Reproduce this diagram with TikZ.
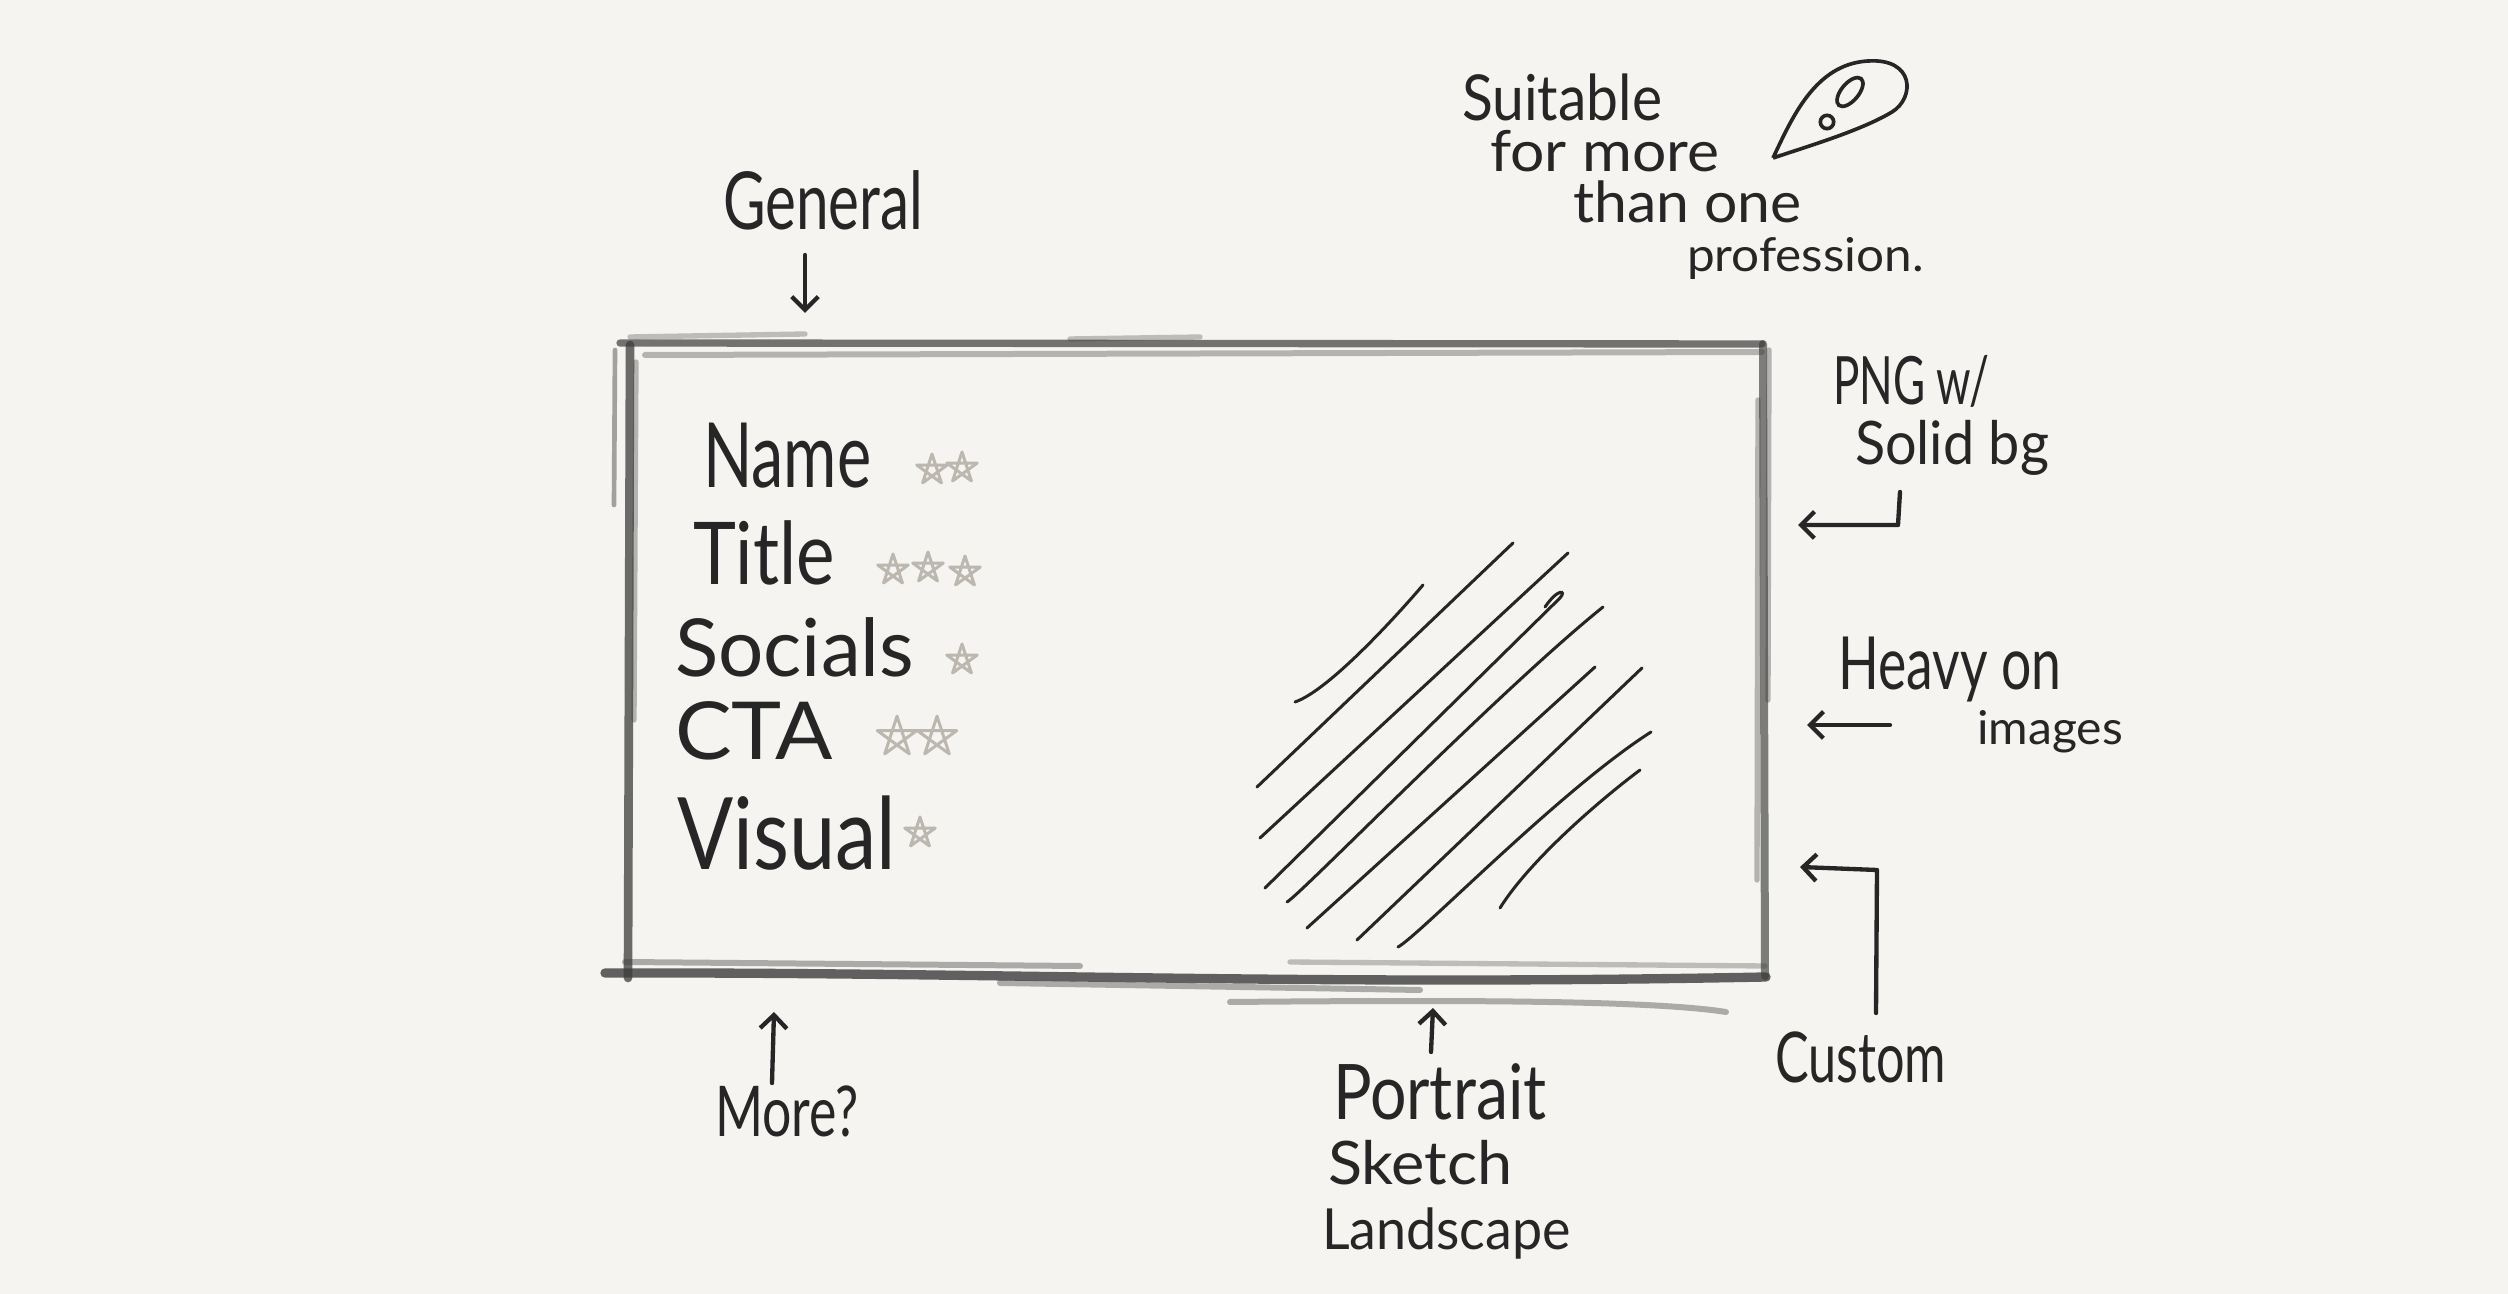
\documentclass[tikz,border=0pt]{standalone}
\usepackage{fontspec}
\setmainfont{Lato}
\usepackage{graphicx}
\usetikzlibrary{arrows.meta}
\definecolor{paper}{RGB}{245,244,240}
\definecolor{ink}{RGB}{38,38,38}
\definecolor{lead}{RGB}{60,60,60}
\definecolor{starink}{RGB}{188,184,176}
% size in pt, horizontal squeeze, text
\newcommand\handtext[3]{\fontsize{#1}{#1}\selectfont\scalebox{#2}[1]{#3}}
\tikzset{
  note/.style={anchor=base west, inner sep=0pt, outer sep=0pt, text=ink},
  pointer/.style={draw=ink, line width=1.3pt, line cap=round, line join=round,
    -{Straight Barb[length=4pt,width=8pt,line width=1.3pt]}},
  hatch/.style={draw=ink, line width=0.9pt, line cap=round},
  pencil/.style={draw=lead, line cap=round, line width=2pt, opacity=0.5},
  starline/.style={draw=starink, line width=0.9pt, line join=round, line cap=round},
  hstar/.pic={\draw[starline] (90:4.8pt) -- (234:4.8pt) -- (18:4.8pt) -- (162:4.8pt) -- (306:4.8pt) -- cycle;}
}
\begin{document}
\begin{tikzpicture}[x=0.3pt,y=-0.3pt]
\useasboundingbox[fill=paper] (0,0) rectangle (2508,1294);

% ---- pencil frame ----
\draw[pencil, line width=1.4pt, opacity=0.45] (615,350) -- (614,505);
\draw[pencil, line width=2.6pt, opacity=0.75] (630,345) -- (628,978);
\draw[pencil, line width=1.6pt, opacity=0.35] (636,362) -- (634,720);
\draw[pencil, line width=2.2pt, opacity=0.7] (620,343) -- (1762,344);
\draw[pencil, line width=1.8pt, opacity=0.35] (645,355) -- (1762,352);
\draw[pencil, line width=1.6pt, opacity=0.3] (630,337) -- (805,334);
\draw[pencil, line width=1.6pt, opacity=0.3] (1070,339) -- (1200,337);
\draw[pencil, line width=2.4pt, opacity=0.65] (1763,344) -- (1765,976);
\draw[pencil, line width=1.6pt, opacity=0.35] (1769,350) -- (1768,700);
\draw[pencil, line width=1.6pt, opacity=0.35] (1758,400) -- (1757,880);
\draw[pencil, line width=2.8pt, opacity=0.8] (605,973) .. controls (1000,972) and (1300,986) .. (1766,977);
\draw[pencil, line width=1.8pt, opacity=0.4] (625,962) -- (1080,966);
\draw[pencil, line width=1.8pt, opacity=0.4] (1000,983) -- (1420,990);
\draw[pencil, line width=1.6pt, opacity=0.3] (1290,962) -- (1765,966);
\draw[pencil, line width=1.8pt, opacity=0.4] (1230,1002) .. controls (1450,1000) and (1650,1000) .. (1726,1012);

% ---- hatched image area ----
\draw[hatch] (1295,702) .. controls (1330,690) and (1400,612) .. (1423,585);
\draw[hatch] (1257,787) -- (1513,543);
\draw[hatch] (1260,838) -- (1568,553);
\draw[hatch] (1265,888) -- (1560,598) .. controls (1567,590) and (1558,588) .. (1545,607);
\draw[hatch] (1287,902) .. controls (1300,895) and (1500,690) .. (1603,607);
\draw[hatch] (1307,928) -- (1595,667);
\draw[hatch] (1357,940) -- (1642,668);
\draw[hatch] (1398,947) .. controls (1420,935) and (1560,790) .. (1651,732);
\draw[hatch] (1500,908) .. controls (1530,860) and (1600,800) .. (1640,770);

% ---- content list with ratings ----
\node[note] (name)    at (703,488) {\handtext{27}{0.72}{Name}};
\node[note] (title)   at (693,585) {\handtext{26}{0.84}{Title}};
\node[note] (socials) at (675,677) {\handtext{24}{1.0}{Socials}};
\node[note] (cta)     at (675,760) {\handtext{24}{1.06}{CTA}};
\node[note] (visual)  at (677,870) {\handtext{30}{0.83}{Visual}};
\pic (n1) at (932,470) {hstar};
\pic (n2) at (962,468) {hstar};
\pic (t1) at (893,570) {hstar};
\pic (t2) at (928,568) {hstar};
\pic (t3) at (965,572) {hstar};
\pic (s1) at (962,660) {hstar};
\pic[scale=1.3] (c1) at (897,737) {hstar};
\pic[scale=1.3] (c2) at (937,737) {hstar};
\pic (v1) at (920,833) {hstar};

% ---- top notes ----
\node[note] (general) at (723,230) {\handtext{24}{0.73}{General}};
\coordinate (general-from) at (805,255);
\coordinate (general-to) at (805,313);
\draw[pointer] (general-from) -- (general-to);

\node[note] (suit1) at (1462,121) {\handtext{19}{0.9}{Suitable}};
\node[note] (suit2) at (1490,172) {\handtext{17}{1.07}{for more}};
\node[note] (suit3) at (1573,223) {\handtext{17}{1.04}{than one}};
\node[note] (suit4) at (1687,272) {\handtext{14}{1.06}{profession.}};

% speech drop
\coordinate (drop-tip) at (1773,158);
\draw[ink, line width=1.1pt, line join=round] (drop-tip)
  .. controls (1792,118) and (1815,64) .. (1868,61)
  .. controls (1915,58) and (1915,98) .. (1892,112)
  .. controls (1862,130) and (1812,145) .. (drop-tip);
\draw[ink, line width=1.1pt] (1850,92) ellipse [x radius=5.2pt, y radius=2.6pt, rotate=50];
\draw[ink, line width=1.1pt] (1827,122) circle [radius=2pt];

% ---- right notes ----
\node[note] (png1) at (1833,405) {\handtext{20}{0.66}{PNG w/}};
\node[note] (png2) at (1855,465) {\handtext{18}{0.93}{Solid bg}};
\coordinate (png-from) at (1900,492);
\coordinate (png-bend) at (1898,525);
\coordinate (png-to) at (1798,525);
\draw[pointer] (png-from) -- (png-bend) -- (png-to);

\node[note] (heavy1) at (1838,690) {\handtext{22}{0.73}{Heavy on}};
\node[note] (heavy2) at (1977,745) {\handtext{14}{1.03}{images}};
\coordinate (heavy-from) at (1890,725);
\coordinate (heavy-to) at (1807,725);
\draw[pointer] (heavy-from) -- (heavy-to);

\node[note] (custom) at (1775,1083) {\handtext{21}{0.72}{Custom}};
\coordinate (custom-from) at (1876,1013);
\coordinate (custom-bend) at (1877,870);
\coordinate (custom-to) at (1800,867);
\draw[pointer] (custom-from) -- (custom-bend) -- (custom-to);

% ---- bottom notes ----
\node[note] (more) at (715,1137) {\handtext{21}{0.74}{More?}};
\coordinate (more-from) at (772,1083);
\coordinate (more-to) at (774,1012);
\draw[pointer] (more-from) -- (more-to);

\node[note] (portrait)  at (1333,1120) {\handtext{23}{0.84}{Portrait}};
\node[note] (sketch)    at (1328,1185) {\handtext{18}{1.05}{Sketch}};
\node[note] (landscape) at (1322,1250) {\handtext{17}{0.95}{Landscape}};
\coordinate (style-from) at (1431,1052);
\coordinate (style-to) at (1433,1008);
\draw[pointer] (style-from) -- (style-to);
\end{tikzpicture}
\end{document}
